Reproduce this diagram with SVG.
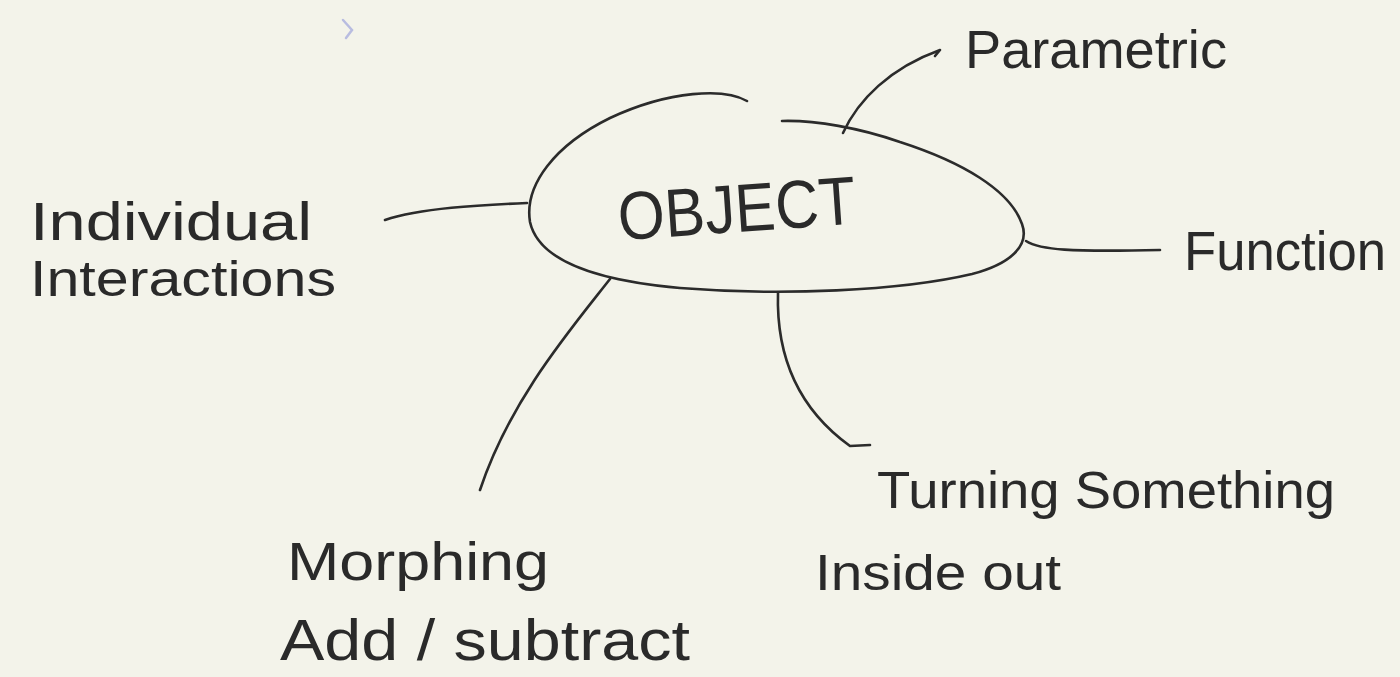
<svg xmlns="http://www.w3.org/2000/svg" width="1400" height="677" viewBox="0 0 1400 677">
  <style>
    .ink { fill: none; stroke: #2b2b2b; stroke-width: 2.6; stroke-linecap: round; stroke-linejoin: round; }
    .label { font-family: "Liberation Sans", "DejaVu Sans", sans-serif; fill: #2a2a2a; }
  </style>
  <!-- paper -->
  <rect x="0" y="0" width="1400" height="677" fill="#f3f3ea"/>
  <!-- stray pen mark -->
  <path d="M 343,20 L 352,30 L 346,38" fill="none" stroke="#b8bce0" stroke-width="2.5" stroke-linecap="round"/>

  <!-- central node -->
  <g id="object">
    <path class="ink" d="M 747,101 C 725,88 670,90 610,118 C 555,145 524,185 530,222 C 538,258 590,280 680,288 C 780,296 900,291 972,274 C 1010,264 1030,246 1022,224 C 1010,190 962,162 900,142 C 860,128 815,120 782,121"/>
    <text class="label" x="617" y="232" font-size="68" textLength="238" lengthAdjust="spacingAndGlyphs" transform="rotate(-4 735 200)">OBJECT</text>
  </g>

  <!-- connectors -->
  <g id="connectors">
    <path class="ink" d="M 843,133 C 858,100 890,68 940,50 L 935,56"/>
    <path class="ink" d="M 1026,241 C 1040,250 1070,252 1160,250"/>
    <path class="ink" d="M 527,203 C 480,205 420,208 385,220"/>
    <path class="ink" d="M 610,279 C 570,330 510,400 480,490"/>
    <path class="ink" d="M 778,293 C 776,360 800,410 850,446 L 870,445"/>
  </g>

  <g id="parametric">
    <text class="label" x="965" y="68" font-size="54" textLength="262" lengthAdjust="spacingAndGlyphs">Parametric</text>
  </g>

  <g id="function">
    <text class="label" x="1184" y="270" font-size="56" textLength="202" lengthAdjust="spacingAndGlyphs">Function</text>
  </g>

  <g id="individual-interactions">
    <text class="label" x="30" y="240" font-size="54" textLength="282" lengthAdjust="spacingAndGlyphs">Individual</text>
    <text class="label" x="30" y="296" font-size="50" textLength="306" lengthAdjust="spacingAndGlyphs">Interactions</text>
  </g>

  <g id="morphing">
    <text class="label" x="287" y="580" font-size="54" textLength="262" lengthAdjust="spacingAndGlyphs">Morphing</text>
    <text class="label" x="280" y="660" font-size="58" textLength="410" lengthAdjust="spacingAndGlyphs">Add / subtract</text>
  </g>

  <g id="turning">
    <text class="label" x="877" y="508" font-size="52" textLength="458" lengthAdjust="spacingAndGlyphs">Turning Something</text>
    <text class="label" x="815" y="590" font-size="50" textLength="246" lengthAdjust="spacingAndGlyphs">Inside out</text>
  </g>
</svg>
